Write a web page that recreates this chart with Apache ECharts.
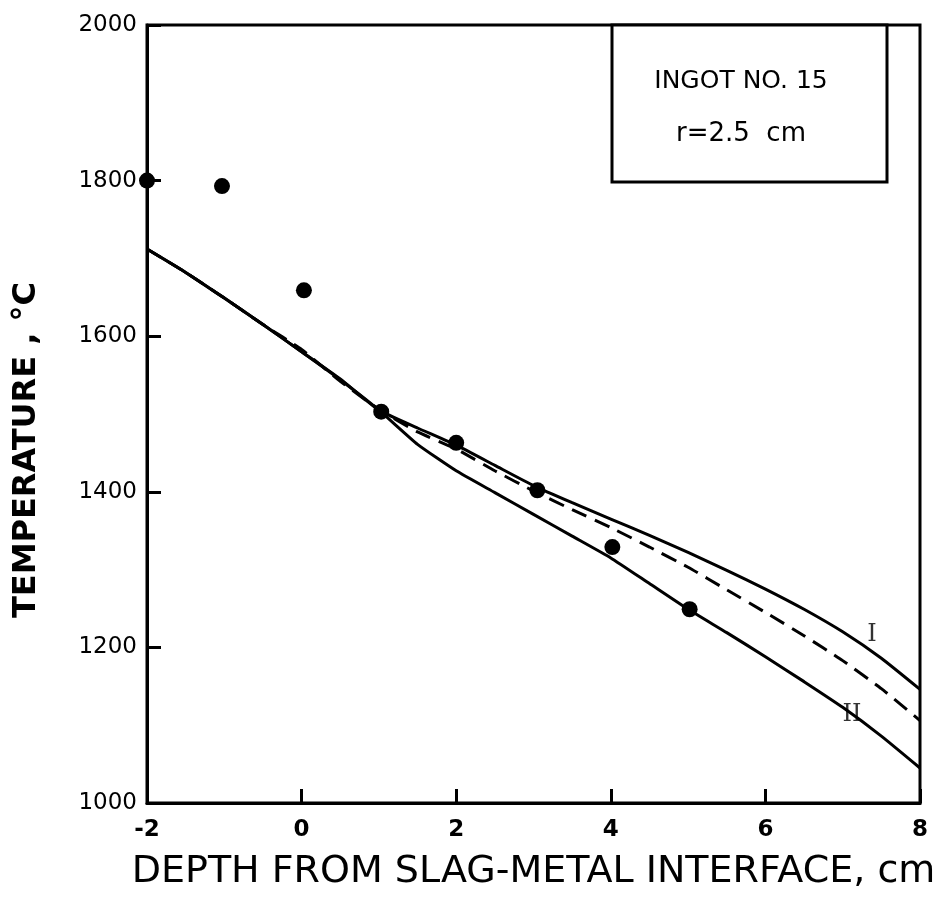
<!DOCTYPE html>
<html><head><meta charset="utf-8">
<script src="https://cdn.jsdelivr.net/npm/echarts@6/dist/echarts.min.js"></script>
<style>html,body{margin:0;padding:0;background:#fff}#c{width:945px;height:904px}</style>
</head><body><div id="c"></div>
<script>
var depth = [-2,-1.5,-1,-0.5,0,0.5,1,1.5,2,2.5,3,3.5,4,4.5,5,5.5,6,6.5,7,7.5,8];
var curveI = [1712,1682,1649,1615,1580,1545,1505,1482,1460,1434,1408,1386,1365,1344,1322,1299,1275,1249,1220,1186,1146];
var curveDashed = [1712,1682,1649,1615,1583,1542,1506,1477,1455,1427,1401,1377,1354,1329,1303,1274,1245,1215,1183,1147,1106];
var curveII = [1712,1682,1649,1615,1580,1544,1505,1461,1427,1399,1371,1343,1315,1282,1249,1219,1188,1156,1123,1086,1045];
var measX = [-2,-1.03,0.03,1.03,2,3.05,4.02,5.02];
var measT = [1800,1793,1659,1503,1463,1402,1329,1249];
var xTicks = [-2,0,2,4,6,8];
var yTicks = [1000,1200,1400,1600,1800,2000];
var curveLabels = ['I','II'];
var curveLabelPos = [[7.38,1216],[7.12,1113]];
var boxLines = ['INGOT NO. 15','r=2.5  cm'];

function pairs(xs, ys){ return xs.map(function(x,i){return [x, ys[i]];}); }
var font = '"DejaVu Sans", sans-serif';
var chart = echarts.init(document.getElementById('c'));
chart.setOption({
  animation:false,
  backgroundColor:'#fff',
  grid:{left:147,right:25,top:25,bottom:101,outerBoundsMode:'none',containLabel:false,show:true,borderColor:'#000',borderWidth:3,backgroundColor:'transparent'},
  xAxis:{type:'value',min:xTicks[0],max:xTicks[xTicks.length-1],interval:2,
    axisLine:{show:true,onZero:false,lineStyle:{color:'#000',width:3}},
    axisTick:{show:true,inside:true,length:14,lineStyle:{color:'#000',width:3}},
    axisLabel:{color:'#000',fontSize:23,fontFamily:font,fontWeight:'bold',margin:16,formatter:function(v){return String(v);}},
    splitLine:{show:false},
    name:'DEPTH FROM SLAG-METAL INTERFACE, cm',nameLocation:'middle',nameGap:50,
    nameTextStyle:{color:'#000',fontSize:38,fontFamily:font}},
  yAxis:{type:'value',min:yTicks[0],max:yTicks[yTicks.length-1],interval:200,
    axisLine:{show:true,onZero:false,lineStyle:{color:'#000',width:3}},
    axisTick:{show:true,inside:true,length:14,lineStyle:{color:'#000',width:3}},
    axisLabel:{color:'#000',fontSize:23,fontFamily:font,margin:10,formatter:function(v){return String(v);}},
    splitLine:{show:false},
    name:'TEMPERATURE , °C',nameLocation:'middle',nameGap:104,
    nameTextStyle:{color:'#000',fontSize:32,fontFamily:font,fontWeight:'bold',padding:[0,72,0,0]}},
  series:[
    {type:'line',data:pairs(depth,curveI),smooth:0.15,symbol:'none',lineStyle:{color:'#000',width:3}},
    {type:'line',data:pairs(depth,curveDashed),smooth:0.15,symbol:'none',lineStyle:{color:'#000',width:3,type:[16,9]}},
    {type:'line',data:pairs(depth,curveII),smooth:0.15,symbol:'none',lineStyle:{color:'#000',width:3}},
    {type:'scatter',data:pairs(measX,measT),symbol:'circle',symbolSize:16,itemStyle:{color:'#000',opacity:1},z:5},
    {type:'scatter',symbolSize:0,data:curveLabelPos.map(function(p,i){return {value:p,name:curveLabels[i]};}),
      label:{show:true,position:'inside',formatter:'{b}',color:'#000',fontSize:24,fontFamily:'"DejaVu Serif", serif'}}
  ],
  graphic:[
    {type:'rect',shape:{x:612,y:25,width:275,height:157},style:{fill:'#fff',stroke:'#000',lineWidth:3},z:10},
    {type:'text',x:741,y:81,style:{text:boxLines[0],fill:'#000',font:'25px "DejaVu Sans", sans-serif',textAlign:'center',textVerticalAlign:'middle'},z:11},
    {type:'text',x:741,y:134,style:{text:boxLines[1],fill:'#000',font:'26px "DejaVu Sans", sans-serif',textAlign:'center',textVerticalAlign:'middle'},z:11}
  ]
});
</script></body></html>
